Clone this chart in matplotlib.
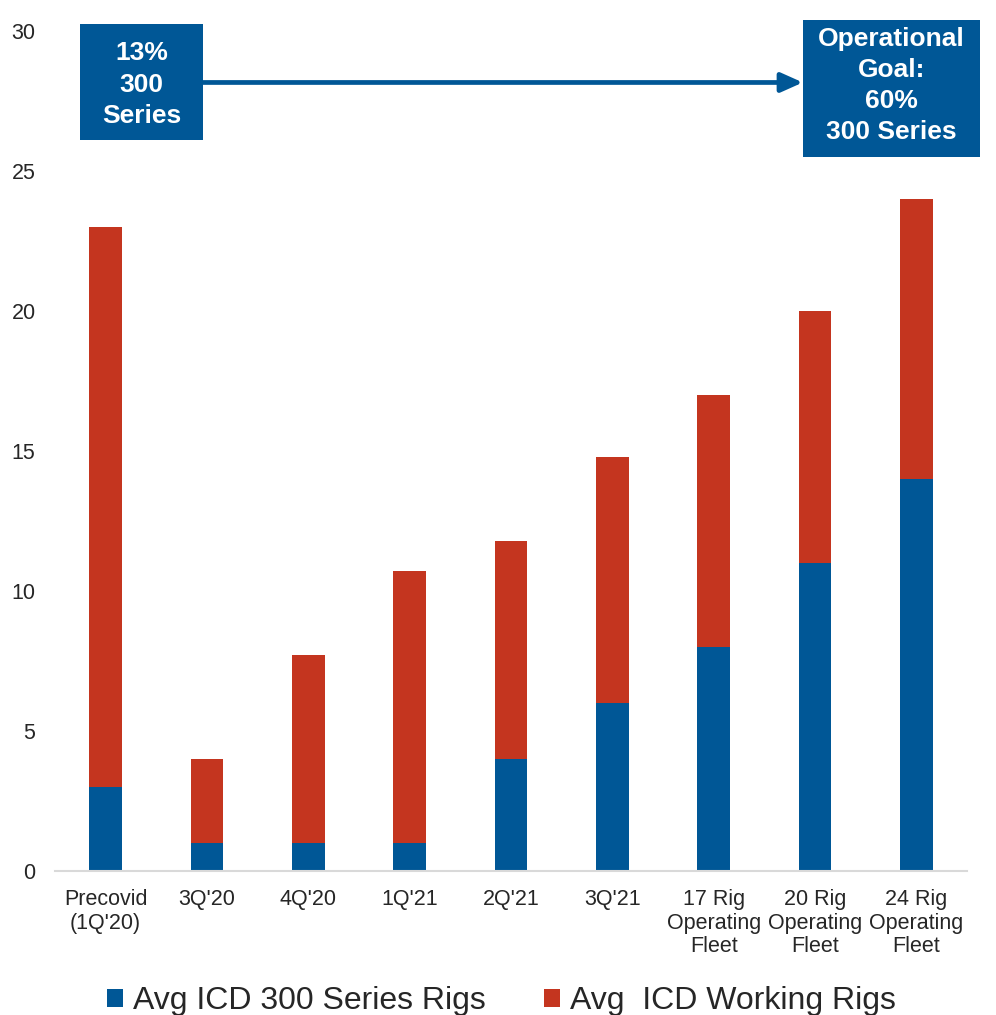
import matplotlib
matplotlib.use("Agg")
import matplotlib.pyplot as plt
from matplotlib.patches import Rectangle, FancyArrowPatch

plt.rcParams['font.family'] = ['Liberation Sans', 'DejaVu Sans']

# Fleet data
categories = ["Precovid\n(1Q'20)", "3Q'20", "4Q'20", "1Q'21", "2Q'21", "3Q'21",
              "17 Rig\nOperating\nFleet", "20 Rig\nOperating\nFleet", "24 Rig\nOperating\nFleet"]
series_300 = [3, 1, 1, 1, 4, 6, 8, 11, 14]
working_total = [23, 4, 7.7, 10.7, 11.8, 14.8, 17, 20, 24]
y_ticks = [0, 5, 10, 15, 20, 25, 30]

legend_300 = "Avg ICD 300 Series Rigs"
legend_working = "Avg  ICD Working Rigs"
start_label = "13%\n300\nSeries"
goal_label = "Operational\nGoal:\n60%\n300 Series"

BLUE = "#005796"
RED = "#C4351F"
TEXT = "#262626"

fig = plt.figure(figsize=(9.96, 10.15), dpi=100)
ax = fig.add_axes([0.0552, 0.1419, 0.9157, 0.8276])

x = list(range(len(categories)))
remaining = [t - b for t, b in zip(working_total, series_300)]
b1 = ax.bar(x, series_300, width=0.32, color=BLUE, label=legend_300)
b2 = ax.bar(x, remaining, bottom=series_300, width=0.32, color=RED, label=legend_working)

ax.set_xlim(-0.5, len(categories) - 0.5)
ax.set_ylim(0, 30)
ax.set_yticks(y_ticks)
ax.set_xticks(x)
ax.set_xticklabels(categories, fontsize=15.5, color=TEXT, linespacing=1.16)
ax.tick_params(axis='y', length=0, pad=14, labelsize=15.5, labelcolor=TEXT)
ax.tick_params(axis='x', length=0, pad=13)
for s in ['top', 'right', 'left']:
    ax.spines[s].set_visible(False)
ax.spines['bottom'].set_color("#D9D9D9")
ax.spines['bottom'].set_linewidth(1.5)

# Starting-point and goal boxes joined by an arrow
ax.add_patch(Rectangle((-0.253, 26.11), 1.214, 4.14, facecolor=BLUE,
                       edgecolor='none', clip_on=False, zorder=3))
ax.text(0.354, 28.08, start_label, ha='center', va='center', color='white',
        fontsize=19, fontweight='bold', linespacing=1.4, zorder=4)

ax.add_patch(Rectangle((6.88, 25.5), 1.748, 4.89, facecolor=BLUE,
                       edgecolor='none', clip_on=False, zorder=3))
ax.text(7.754, 28.05, goal_label, ha='center', va='center', color='white',
        fontsize=19, fontweight='bold', linespacing=1.36, zorder=4)

ax.add_patch(FancyArrowPatch((0.961, 28.16), (6.88, 28.16),
                             arrowstyle='-|>,head_length=1.3,head_width=0.58',
                             mutation_scale=10, color=BLUE, lw=3.4,
                             shrinkA=0, shrinkB=0, clip_on=False, zorder=3))

fig.legend(handles=[b1, b2], loc='center', bbox_to_anchor=(0.5035, 0.0135),
           ncol=2, frameon=False, fontsize=23, handlelength=0.5, handleheight=0.5,
           handletextpad=0.3, columnspacing=1.85, labelcolor=TEXT)

fig.savefig("out.png", dpi=100)
